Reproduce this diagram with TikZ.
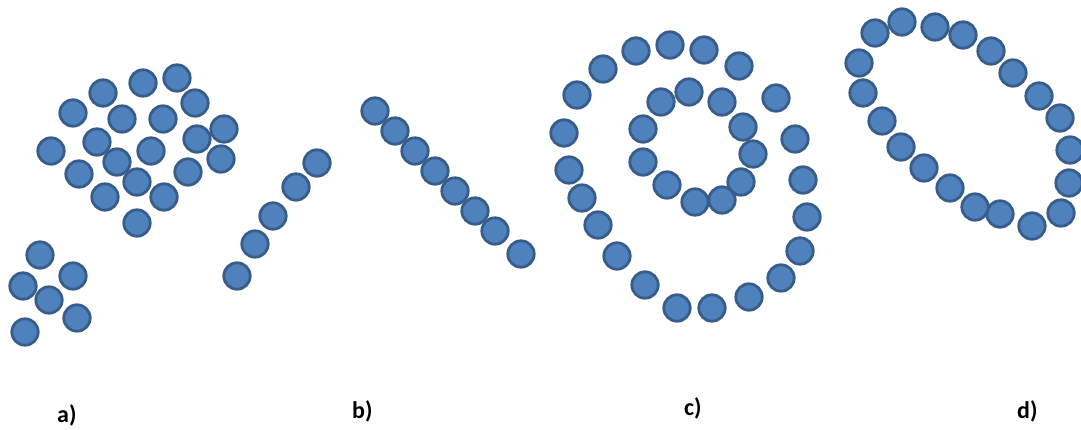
\documentclass[tikz,border=0pt]{standalone}
\usepackage{fontspec}
\setmainfont{Carlito}
\usetikzlibrary{positioning}

\definecolor{beadfill}{HTML}{4F81BD}
\definecolor{beadline}{HTML}{385D8A}
\tikzset{
  bead/.style={fill=beadfill,draw=beadline,line width=2.8pt},
  caselabel/.style={font=\fontsize{24}{28}\selectfont\bfseries,anchor=base west,inner sep=0pt}
}

\begin{document}
\begin{tikzpicture}[x=1pt,y=-1pt]
\useasboundingbox (0,0) rectangle (1081,430);

% a) cluster
\foreach \x/\y in {103/93,143/83,177/78,73/113,122/119,163/119,195/103,224/129,
  51/151,97/142,151/151,197/139,221/159,117/162,79/174,137/182,188/172,
  105/197,164/197,137/223}
  \draw[bead] (\x,\y) circle (13.2);
% a) small group
\foreach \x/\y in {40/255,73/276,23/286,49/300,77/318,25/332}
  \draw[bead] (\x,\y) circle (13.2);

% b) two lines
\foreach \x/\y in {317/163,296/187,273/216,255/244,237/276}
  \draw[bead] (\x,\y) circle (13.2);
\foreach \x/\y in {375/111,395/131,415/151,435/171,455/191,475/211,495/231,521/254}
  \draw[bead] (\x,\y) circle (13.2);

% c) spiral
\foreach \x/\y in {636/51,670/45,704/50,739/66,776/98,795/139,803/180,807/217,
  800/251,781/278,749/297,712/308,677/308,645/285,617/256,598/225,582/198,
  569/170,564/133,577/95,603/69}
  \draw[bead] (\x,\y) circle (13.2);
\foreach \x/\y in {689/92,661/102,722/102,743/127,753/154,741/182,722/200,
  695/202,667/185,643/162,643/129}
  \draw[bead] (\x,\y) circle (13.2);

% d) ring
\foreach \x/\y in {902/22,875/33,935/27,963/35,991/51,1013/73,1039/96,1060/118,
  1070/150,1069/183,1061/213,1032/226,1000/214,975/207,950/188,924/168,
  901/147,882/121,863/93,859/63}
  \draw[bead] (\x,\y) circle (13.2);

% labels
\node[caselabel] (la) at (57,422) {a)};
\node[caselabel] (lb) at (352,418) {b)};
\node[caselabel] (lc) at (684,415) {c)};
\node[caselabel] (ld) at (1017,418) {d)};

\end{tikzpicture}
\end{document}
